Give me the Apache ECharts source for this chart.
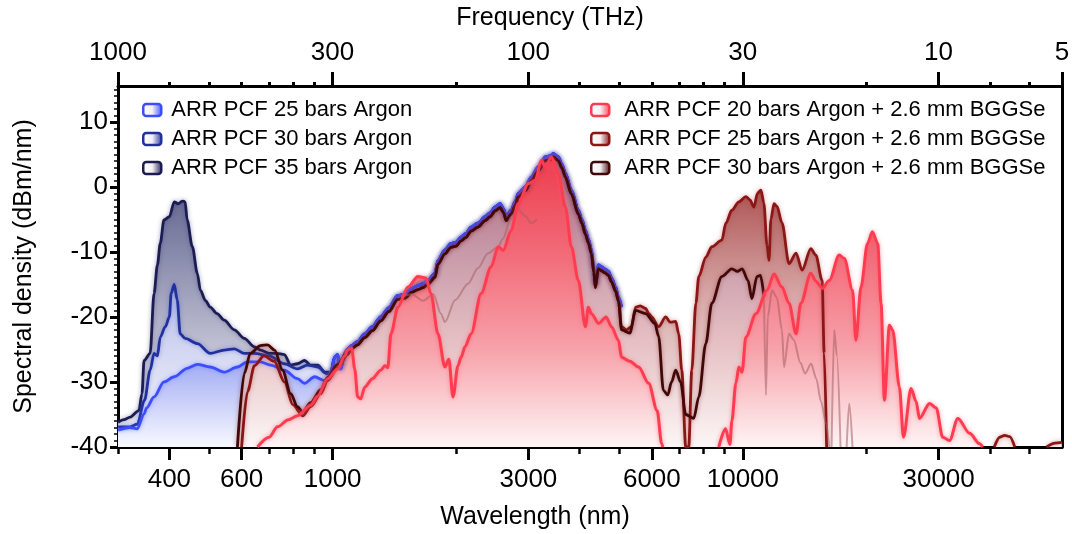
<!DOCTYPE html>
<html>
<head>
<meta charset="utf-8">
<title>Spectral density</title>
<script src="https://cdn.jsdelivr.net/npm/echarts@6.0.0/dist/echarts.min.js"></script>
<style>
    html, body { margin: 0; padding: 0; background: #fff; }
    #chart { width: 1072px; height: 534px; }
</style>
</head>
<body>
<div id="chart"></div>
<script>
    // data: [wavelength (nm), spectral density (dBm/nm)]
    // short-wavelength part of the Argon-only spectra
    const argon35Head = [[300,-36.2],[310,-35.8],[321,-35.4],[337,-34.4],[343,-31.8],[347,-26.7],[359,-25.6],[367,-16.4],[374,-12.0],[380,-8.7],[388,-5.1],[400,-4.6],[411,-2.3],[420,-2.6],[430,-2.2],[437,-2.3],[442,-5.1],[455,-9.2],[468,-13.3],[476,-15.9],[490,-17.5],[503,-18.5],[523,-19.5],[544,-20.5],[576,-22.0],[609,-23.3],[645,-24.6],[667,-25.1],[700,-25.6],[730,-25.6],[763,-25.8],[790,-27.4],[821,-27.2],[854,-26.7],[884,-27.4],[920,-27.4],[956,-28.5]];
    const argon30Head = [[300,-36.9],[321,-36.9],[334,-36.5],[348,-32.8],[359,-28.2],[367,-25.6],[374,-26.0],[380,-23.1],[391,-21.5],[400,-20.0],[404,-16.4],[411,-15.0],[418,-17.4],[425,-22.6],[437,-23.3],[468,-24.1],[503,-25.6],[544,-25.1],[576,-24.9],[609,-25.6],[645,-25.6],[700,-26.0],[763,-27.2],[821,-28.0],[868,-27.4],[920,-27.7],[972,-28.8]];
    const argon25Head = [[300,-37.4],[320,-37.0],[334,-37.2],[347,-34.9],[352,-34.0],[367,-32.3],[388,-30.0],[411,-29.2],[442,-27.9],[468,-27.3],[503,-27.7],[544,-28.5],[586,-27.7],[620,-26.9],[667,-26.9],[706,-27.4],[763,-28.2],[821,-29.5],[854,-30.2],[904,-29.2],[956,-29.8],[980,-29.5]];
    // mid-IR part where the three Argon spectra lie on top of each other
    const argonMidIR = [[990,-28.5],[1011,-26.2],[1028,-25.8],[1046,-28.0],[1070,-25.6],[1088,-24.9],[1113,-24.4],[1150,-23.8],[1197,-22.6],[1250,-21.5],[1310,-20.0],[1370,-18.6],[1442,-16.7],[1500,-16.5],[1560,-15.6],[1614,-15.2],[1660,-14.9],[1707,-14.4],[1776,-13.3],[1806,-11.3],[1878,-9.7],[1943,-8.7],[2000,-8.5],[2056,-7.7],[2110,-7.2],[2175,-6.2],[2260,-5.6],[2353,-4.6],[2420,-4.0],[2489,-3.1],[2561,-2.6],[2610,-3.4],[2649,-4.6],[2724,-3.6],[2790,-2.2],[2834,-1.0],[2948,0.0],[3050,1.5],[3173,3.1],[3300,4.6],[3400,4.8],[3451,5.1],[3549,4.6],[3620,3.5],[3692,2.1],[3819,-0.5],[3972,-3.6],[4050,-5.0],[4132,-6.7],[4200,-8.0],[4274,-9.7],[4330,-12.5],[4371,-14.9],[4440,-12.0],[4522,-12.3],[4600,-12.6],[4703,-13.0],[4783,-14.0],[4892,-15.4],[4975,-17.0],[5060,-18.5],[5070,null]];

    // Argon + 2.6 mm BGGSe spectra
    const bggse20 = [[656,-40],[700,-38.5],[734,-36.9],[780,-35.8],[821,-35.2],[884,-33.6],[919,-32.2],[972,-29.5],[1028,-28.0],[1070,-26.0],[1088,-25.1],[1113,-24.8],[1132,-28.0],[1151,-32.3],[1171,-32.6],[1197,-30.8],[1250,-29.5],[1310,-28.2],[1340,-27.5],[1363,-27.8],[1387,-22.6],[1442,-18.5],[1526,-15.4],[1614,-13.8],[1688,-14.0],[1736,-16.4],[1806,-22.6],[1878,-27.7],[1920,-26.5],[1965,-32.3],[2021,-27.5],[2056,-26.2],[2102,-24.6],[2175,-22.6],[2301,-16.4],[2434,-12.3],[2532,-9.2],[2604,-9.8],[2724,-6.7],[2834,-2.6],[2999,0.5],[3120,1.0],[3227,4.1],[3300,3.0],[3412,4.6],[3549,2.1],[3692,-3.1],[3819,-9.2],[3972,-14.4],[4132,-21.5],[4200,-18.5],[4274,-19.5],[4450,-21.0],[4640,-20.0],[4783,-21.5],[4975,-23.6],[5060,-26.2],[5300,-26.8],[5569,-27.7],[5892,-30.2],[6180,-34.4],[6340,-39.5],[6380,-40],
        [7500,null],
        [8736,-40],[9072,-37.2],[9300,-39.6],[9400,-36.0],[9614,-30.2],[9777,-27.7],[9950,-28.5],[10170,-23.1],[10760,-19.5],[11450,-15.9],[11908,-13.4],[12450,-15.4],[12956,-17.9],[13478,-22.6],[13840,-17.9],[14640,-13.3],[15060,-14.5],[15630,-15.6],[16233,-14.4],[17172,-10.5],[17662,-11.0],[18510,-15.9],[18860,-23.6],[19400,-15.4],[20130,-8.7],[20683,-6.9],[21310,-8.7],[21720,-17.9],[22128,-32.8],[22760,-21.3],[23180,-22.0],[24077,-30.8],[24625,-38.5],[25700,-31.0],[26440,-33.0],[26946,-35.6],[28507,-33.3],[29600,-34.0],[30700,-38.5],[31901,-39.0],[33420,-35.6],[35702,-37.9],[37766,-39.5],[38410,-40]];
    const bggse25Head = [[600,-40],[620,-31.5],[645,-27.5],[680,-26.0],[720,-26.8],[763,-30.0],[800,-33.5],[845,-35.2],[884,-33.8],[935,-31.8],[972,-29.8],[1028,-27.8],[1088,-25.8]];
    const bggse30Head = [[586,-40],[609,-28.7],[630,-25.6],[667,-24.4],[694,-24.3],[722,-25.1],[755,-28.2],[790,-31.8],[821,-33.8],[845,-34.6],[884,-33.2],[935,-31.2],[972,-29.3],[1028,-27.3],[1088,-25.4]];
    const bggseMidIR = [[1113,-24.9],[1150,-24.3],[1197,-23.2],[1250,-22.1],[1310,-20.6],[1370,-19.2],[1442,-17.3],[1500,-17.1],[1560,-16.2],[1614,-15.8],[1660,-15.5],[1707,-15.0],[1776,-13.9],[1806,-11.9],[1878,-10.3],[1943,-9.3],[2000,-9.1],[2056,-8.3],[2110,-7.8],[2175,-6.8],[2260,-6.2],[2353,-5.2],[2420,-4.6],[2489,-3.7],[2561,-3.2],[2610,-4.0],[2649,-5.2],[2724,-4.2],[2790,-2.8],[2834,-1.6],[2948,-0.6],[3050,0.9],[3173,2.5],[3300,4.0],[3400,4.2],[3451,4.6],[3549,4.0],[3620,2.9],[3692,1.5],[3819,-1.1],[3972,-4.2],[4050,-5.6],[4132,-7.3],[4200,-8.6],[4274,-10.3],[4330,-13.1],[4371,-15.5],[4440,-12.6],[4522,-12.9],[4600,-13.2],[4703,-13.6],[4783,-14.6],[4892,-16.0],[4975,-17.6]];
    const bggse25Tail = [[5060,-21.5],[5200,-22.0],[5350,-21.5],[5476,-18.5],[5620,-18.3],[5793,-18.7],[5900,-19.5],[5993,-20.0],[6233,-21.5],[6483,-20.0],[6650,-20.8],[6859,-20.7],[6976,-22.6],[7096,-28.2],[7256,-40],[7380,-40],[7506,-28.2],[7680,-17.9],[7808,-13.8],[8121,-10.8],[8401,-9.2],[8886,-8.2],[9086,-5.6],[9400,-3.6],[9777,-2.3],[10170,-1.5],[10400,-2.0],[10640,-3.1],[10850,-1.0],[11068,-0.5],[11250,-2.5],[11450,-9.0],[11578,-11.3],[11700,-5.0],[11908,-2.6],[12111,-3.0],[12450,-5.5],[12956,-11.8],[13478,-10.2],[13943,-12.8],[14640,-9.5],[15060,-10.5],[15600,-14.4],[15781,-25.6],[16000,-40],
        [30000,null],
        [41000,-40],[42260,-38.5],[43460,-38.2],[44710,-38.4],[46000,-40],
        [50000,null],
        [55000,-40],[57600,-39.4],[59900,-39.3]];
    const bggse30Tail = [[5060,-22.0],[5300,-22.5],[5476,-19.0],[5793,-19.5],[6100,-21.0],[6233,-23.0],[6400,-31.3],[6560,-32.0],[6700,-30.0],[6859,-28.2],[7050,-30.0],[7256,-35.0],[7591,-35.6],[7808,-32.3],[8121,-24.1],[8401,-17.9],[8886,-13.8],[9400,-12.6],[9700,-13.0],[9960,-12.6],[10290,-14.4],[10520,-17.2],[10820,-13.8],[11040,-13.6],[11256,-16.9],[11270,null]];
    // weaker traces seen underneath the main curves
    const fadedTrace = [[1467,-16.9],[1560,-16.5],[1660,-17.5],[1760,-16.5],[1837,-19.5],[1878,-20.8],[1990,-17.4],[2138,-14.9],[2260,-12.5],[2393,-10.2],[2532,-9.2],[2600,-8.0],[2724,-4.6],[2834,-3.5],[2948,-4.5],[3050,-5.6],[3150,-5.0],
        [3300,null],
        [11256,-16.9],[11380,-32],[11500,-20],[11775,-15.9],[12100,-17.0],[12450,-22],[12600,-27.7],[12956,-22.6],[13300,-23.5],[13800,-27.0],[14180,-28.7],[14668,-27.2],[15100,-29.5],[15500,-33],[15959,-36.4],[16233,-40],
        [16350,null],
        [16450,-40],[16696,-22],[16950,-26],[17300,-40],
        [17600,null],
        [17900,-40],[18166,-33.3],[18500,-40]];

    // axes
    const bottomMajor = [400, 600, 1000, 3000, 6000, 10000, 30000];
    const bottomMinor = [300, 500, 700, 800, 900, 2000, 4000, 5000, 7000, 8000, 9000, 20000, 40000, 50000];
    const topFreq = [1000, 300, 100, 30, 10, 5];   // THz
    const topMinor = [400, 500, 600, 700, 800, 900, 2000, 4000, 5000, 6000, 7000, 8000, 9000, 20000, 40000, 50000];
    const yTicks = [-40, -30, -20, -10, 0, 10];

    const C = 299792.458;   // nm*THz
    const xMin = 299.79, xMax = 59958.5;
    const font = 'Liberation Sans';
    const gridTop = 86, gridBottom = 87, chartH = 534;

    // fill gradient over the plot height (same for every curve), stops = [[offset, color], ...]
    function vGrad(stops) {
        return new echarts.graphic.LinearGradient(0, gridTop, 0, chartH - gridBottom, stops.map(function (s) {
            return {offset: s[0], color: s[1]};
        }), true);
    }
    function iconGrad(col) {
        return new echarts.graphic.LinearGradient(0, 0, 1, 0, [
            {offset: 0, color: '#ffffff'}, {offset: 0.5, color: '#f4f0f4'}, {offset: 1, color: col}
        ]);
    }
    function makeSeries(name, data, line, stops, width, glow) {
        return {
            name: name,
            type: 'line',
            xAxisIndex: 0,
            yAxisIndex: 0,
            data: data,
            symbol: 'none',
            smooth: 0.3,
            smoothMonotone: 'x',
            connectNulls: false,
            clip: true,
            silent: true,
            lineStyle: {color: line, width: width, shadowColor: glow || 'rgba(0,0,0,0)', shadowBlur: glow ? 4 : 0},
            itemStyle: {color: line},
            areaStyle: stops ? {origin: 'start', opacity: 1, color: vGrad(stops)} : undefined,
            emphasis: {disabled: true}
        };
    }

    const names = [
        'ARR PCF 25 bars Argon', 'ARR PCF 30 bars Argon', 'ARR PCF 35 bars Argon',
        'ARR PCF 20 bars Argon + 2.6 mm BGGSe', 'ARR PCF 25 bars Argon + 2.6 mm BGGSe', 'ARR PCF 30 bars Argon + 2.6 mm BGGSe'
    ];
    const lineCol = ['#3b4dff', '#22309e', '#1c1c52', '#ff3b50', '#8c1515', '#420808'];

    const series = [
        makeSeries(names[2], argon35Head.concat(argonMidIR), lineCol[2],
            [[0, 'rgb(36,39,99)'], [1, 'rgb(252,252,254)']], 2.8, 'rgba(60,60,120,0.5)'),
        makeSeries(names[1], argon30Head.concat(argonMidIR), lineCol[1],
            [[0, 'rgb(60,75,190)'], [0.585, 'rgb(184,190,232)'], [0.711, 'rgb(208,212,240)'], [1, 'rgb(250,250,255)']], 2.8, 'rgba(60,80,200,0.5)'),
        makeSeries(names[0], argon25Head.concat(argonMidIR), lineCol[0],
            [[0, 'rgb(40,60,255)'], [0.784, 'rgb(168,178,245)'], [1, 'rgb(248,249,255)']], 2.8, 'rgba(90,110,255,0.5)'),
        makeSeries(names[4], bggse25Head.concat(bggseMidIR, bggse25Tail), lineCol[4],
            [[0, 'rgb(150,40,40)'], [0.3, 'rgb(176,88,88)'], [0.585, 'rgb(216,168,168)'], [1, 'rgb(252,245,245)']], 2.8, 'rgba(170,60,60,0.5)'),
        makeSeries(names[5], bggse30Head.concat(bggseMidIR, bggse30Tail), lineCol[5],
            [[0, 'rgba(165,95,115,0.92)'], [0.28, 'rgba(180,122,142,0.92)'], [0.46, 'rgba(200,155,172,0.92)'], [0.73, 'rgba(232,195,198,0.92)'], [1, 'rgba(252,246,246,0.92)']], 2.8, 'rgba(120,40,40,0.5)'),
        makeSeries('faded', fadedTrace, 'rgba(165,95,100,0.55)', null, 2, null),
        makeSeries(names[3], bggse20, lineCol[3],
            [[0, 'rgb(235,40,55)'], [0.25, 'rgb(238,70,86)'], [0.46, 'rgb(242,106,120)'], [0.73, 'rgb(247,162,170)'], [1, 'rgb(254,244,245)']], 3, 'rgba(255,90,110,0.6)')
    ];

    function legendItems(idx) {
        return idx.map(function (i) {
            return {name: names[i], itemStyle: {color: iconGrad(lineCol[i]), borderColor: lineCol[i], borderWidth: 2.5}};
        });
    }
    const legendBase = {
        orient: 'vertical',
        icon: 'roundRect',
        itemWidth: 18,
        itemHeight: 12,
        itemGap: 7,
        selectedMode: false,
        textStyle: {fontFamily: font, fontSize: 22, color: '#000', padding: [0, 0, 0, 5]}
    };

    const axisLineBlack = {show: true, onZero: false, lineStyle: {color: '#000', width: 3}};
    const labelStyle = {fontFamily: font, fontSize: 26, color: '#000'};
    const gridRect = {left: 118, right: 10, top: gridTop, bottom: gridBottom, containLabel: false, outerBoundsMode: 'none'};

    const option = {
        animation: false,
        backgroundColor: '#fff',
        textStyle: {fontFamily: font},
        grid: [Object.assign({}, gridRect), Object.assign({}, gridRect)],
        legend: [
            Object.assign({}, legendBase, {left: 137, top: 94, data: legendItems([0, 1, 2])}),
            Object.assign({}, legendBase, {left: 585, top: 94, textStyle: Object.assign({}, legendBase.textStyle, {padding: [0, 0, 0, 10]}), data: legendItems([3, 4, 5])})
        ],
        xAxis: [
            {   // wavelength, major ticks + labels
                gridIndex: 0, type: 'log', logBase: 10, position: 'bottom', min: xMin, max: xMax,
                axisLine: axisLineBlack,
                axisTick: {show: true, customValues: bottomMajor, length: 13, lineStyle: {color: '#000', width: 3}},
                axisLabel: {customValues: bottomMajor, margin: 20, formatter: function (v) { return String(Math.round(v)); }, ...labelStyle},
                splitLine: {show: false}, minorTick: {show: false},
                name: 'Wavelength (nm)', nameLocation: 'middle', nameGap: 58, nameMoveOverlap: false,
                nameTextStyle: {fontFamily: font, fontSize: 25, color: '#000', padding: [0, 110, 0, 0]}
            },
            {   // frequency on top
                gridIndex: 0, type: 'log', logBase: 10, position: 'top', min: xMin, max: xMax,
                axisLine: axisLineBlack,
                axisTick: {show: true, customValues: topFreq.map(function (f) { return C / f; }), length: 14, lineStyle: {color: '#000', width: 3}},
                axisLabel: {customValues: topFreq.map(function (f) { return C / f; }), margin: 20, formatter: function (v) { return String(Math.round(C / v)); }, ...labelStyle},
                splitLine: {show: false}, minorTick: {show: false},
                name: 'Frequency (THz)', nameLocation: 'middle', nameGap: 55, nameMoveOverlap: false,
                nameTextStyle: {fontFamily: font, fontSize: 25, color: '#000', padding: [0, 80, 0, 0]}
            },
            {   // minor ticks bottom
                gridIndex: 1, type: 'log', logBase: 10, position: 'bottom', min: xMin, max: xMax,
                axisLine: {show: false, onZero: false},
                axisTick: {show: true, customValues: bottomMinor, length: 7, lineStyle: {color: '#000', width: 2.5}},
                axisLabel: {show: false}, splitLine: {show: false}
            },
            {   // minor ticks top
                gridIndex: 1, type: 'log', logBase: 10, position: 'top', min: xMin, max: xMax,
                axisLine: {show: false, onZero: false},
                axisTick: {show: true, customValues: topMinor, length: 4, lineStyle: {color: '#000', width: 3}},
                axisLabel: {show: false}, splitLine: {show: false}
            }
        ],
        yAxis: [
            {
                gridIndex: 0, type: 'value', position: 'left', min: -40, max: 15.5, interval: 10,
                axisLine: axisLineBlack,
                axisTick: {show: true, customValues: yTicks, length: 8, lineStyle: {color: '#000', width: 3}},
                minorTick: {show: true, splitNumber: 10, length: 4, lineStyle: {color: '#000', width: 1.5}},
                axisLabel: {customValues: yTicks, margin: 10, ...labelStyle},
                splitLine: {show: false},
                name: 'Spectral density (dBm/nm)', nameLocation: 'middle', nameGap: 81, nameMoveOverlap: false,
                nameTextStyle: {fontFamily: font, fontSize: 25, color: '#000'}
            },
            {
                gridIndex: 0, type: 'value', position: 'right', min: -40, max: 15.5,
                axisLine: axisLineBlack, axisTick: {show: false}, axisLabel: {show: false}, splitLine: {show: false}
            },
            {
                gridIndex: 1, type: 'value', min: -40, max: 15.5, show: false
            }
        ],
        series: series
    };

    const myChart = echarts.init(document.getElementById('chart'), null, {renderer: 'canvas'});
    myChart.setOption(option);
</script>
</body>
</html>
